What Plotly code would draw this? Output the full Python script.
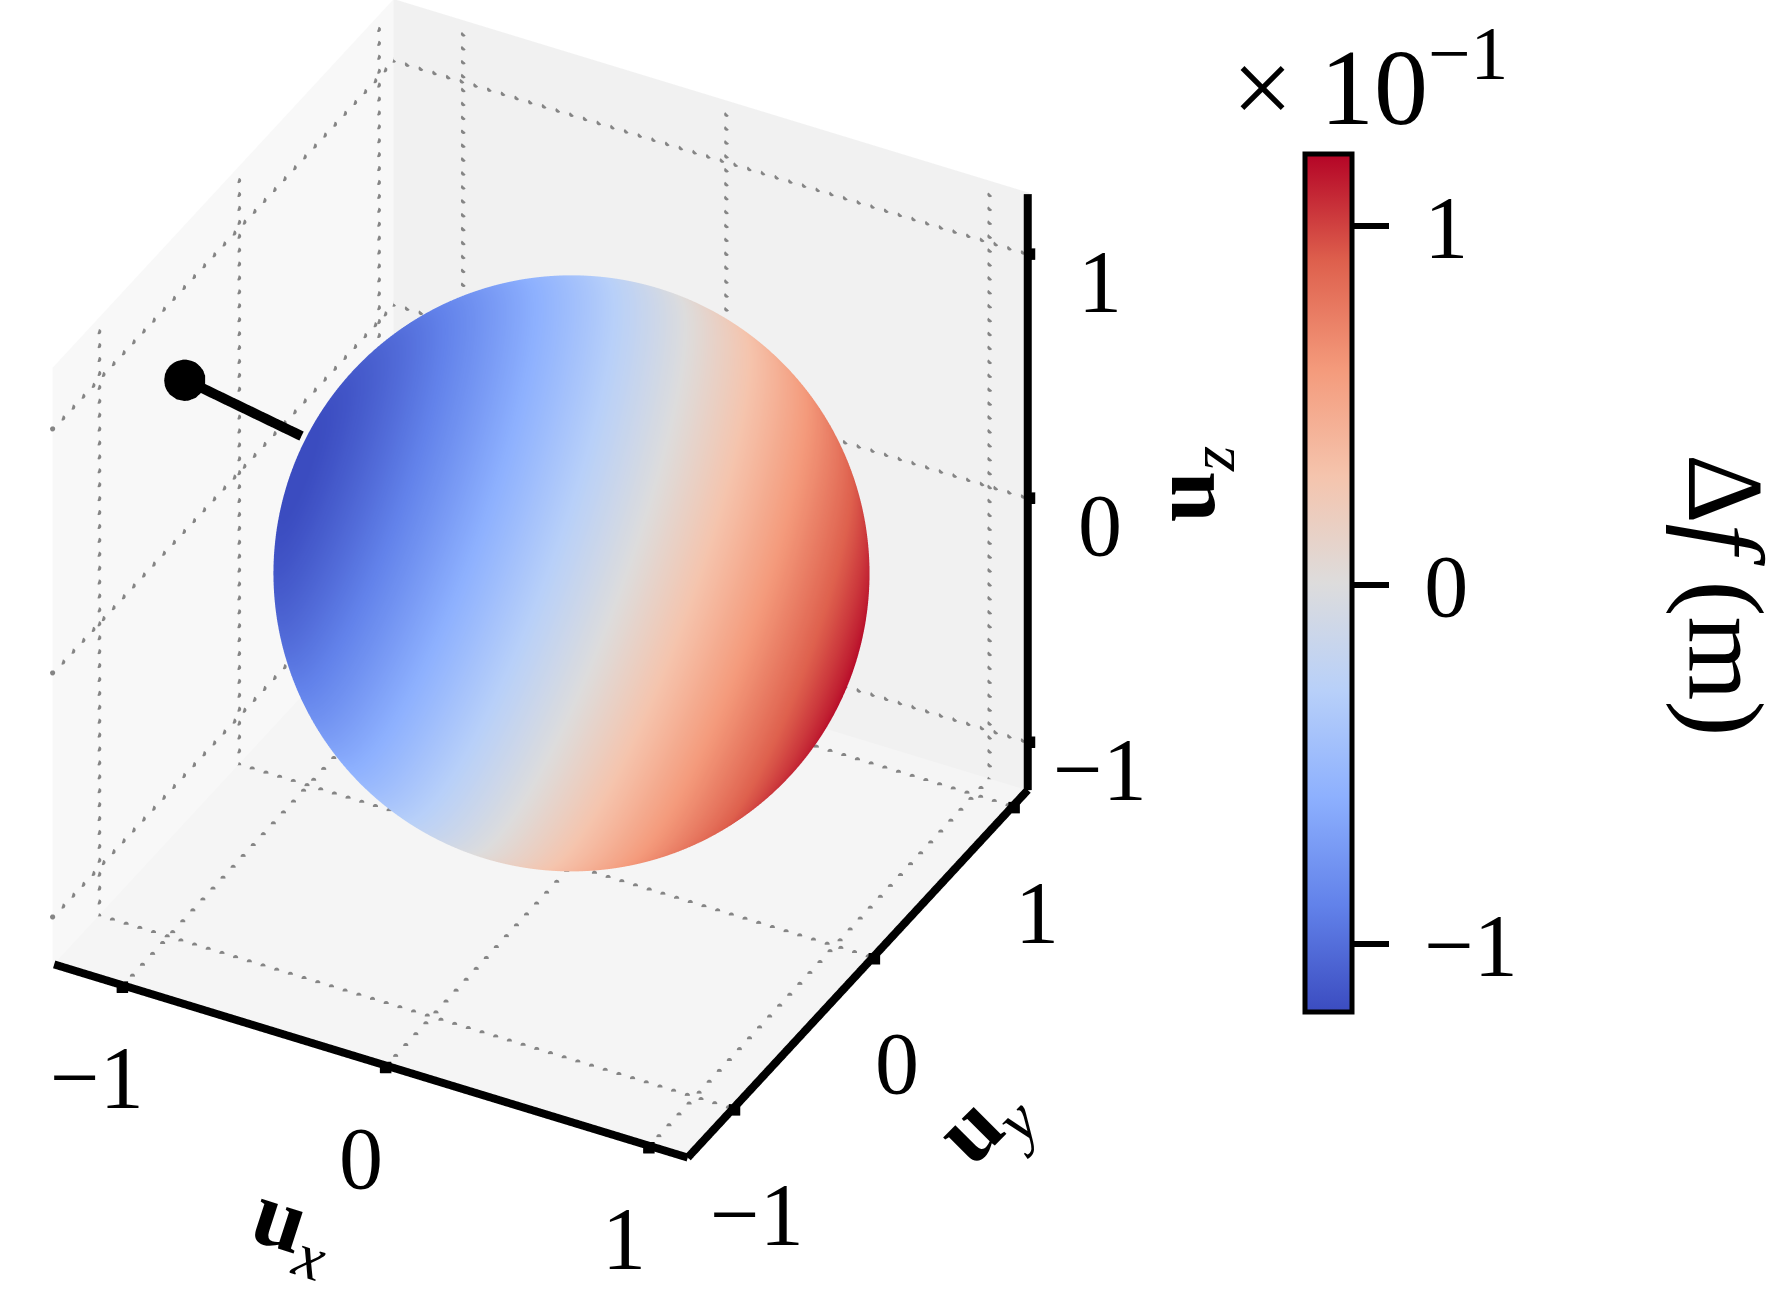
import numpy as np
import plotly.graph_objects as go

# ---- chart values ----
tick_values = [-1, 0, 1]
tick_labels = ["\u22121", "0", "1"]
x_range = [-1.265, 1.15]
y_range = [-1.33, 1.11]
z_range = [-1.20, 1.25]
colour_axis_n = [0.847, 0.386, -0.376]   # direction of the strongest positive value
colour_peak = 1.2                        # value at that direction (x 10^-1 m)
pointer_x = [-0.924, -1.108]
pointer_y = [-0.191, -0.683]
pointer_z = [0.377, 0.853]
colourbar_range = [-1.19, 1.20]
coolwarm = [
    [0.0, "#3b4cc0"], [0.125, "#6282ea"], [0.25, "#8db0fe"], [0.375, "#b8d0f9"],
    [0.5, "#dddcdc"], [0.625, "#f5c4ad"], [0.75, "#f49a7b"], [0.875, "#de604d"],
    [1.0, "#b40426"],
]

FONT = "Liberation Serif"
TICK_SIZE = 88
TITLE_SIZE = 92

# ---- unit sphere ----
theta, phi = np.meshgrid(np.linspace(0, np.pi, 181), np.linspace(0, 2 * np.pi, 361))
sx = np.sin(theta) * np.cos(phi)
sy = np.sin(theta) * np.sin(phi)
sz = np.cos(theta)
n = np.array(colour_axis_n) / np.linalg.norm(colour_axis_n)
colour = colour_peak * (n[0] * sx + n[1] * sy + n[2] * sz)

fig = go.Figure()
fig.add_trace(go.Surface(
    x=sx, y=sy, z=sz, surfacecolor=colour, colorscale=coolwarm,
    cmin=colourbar_range[0], cmax=colourbar_range[1],
    lighting=dict(ambient=1, diffuse=0, specular=0, roughness=1, fresnel=0),
    hoverinfo="skip",
    colorbar=dict(
        x=1305 / 1787, xanchor="left", xpad=0, y=0.5505, yanchor="middle", ypad=0,
        lenmode="pixels", len=858, thicknessmode="pixels", thickness=47,
        outlinewidth=5, outlinecolor="black",
        tickmode="array", tickvals=tick_values, ticktext=["\u2009" + t for t in tick_labels],
        ticks="outside", ticklen=35, tickwidth=6, tickcolor="black",
        tickfont=dict(family=FONT, size=TICK_SIZE, color="black"),
    ),
))

# ---- dotted grid on the three panes (dots, as the dash style renders too long) ----
gx, gy, gz = [], [], []
def dotted(fixed_axis_a, a, fixed_axis_b, b, free_axis, rng, step):
    ts = np.arange(rng[0], rng[1] + 1e-6, step)
    pts = {fixed_axis_a: np.full_like(ts, a), fixed_axis_b: np.full_like(ts, b), free_axis: ts}
    gx.extend(pts["x"]); gy.extend(pts["y"]); gz.extend(pts["z"])
DX, DY, DZ = 0.052, 0.072, 0.057
for t in tick_values:
    dotted("x", t, "z", z_range[0], "y", y_range, DY)          # floor
    dotted("y", t, "z", z_range[0], "x", x_range, DX)          # floor
    dotted("x", t, "y", y_range[1], "z", z_range, DZ)          # back wall
    dotted("z", t, "y", y_range[1], "x", x_range, DX)          # back wall
    dotted("y", t, "x", x_range[0], "z", z_range, DZ)          # left wall
    dotted("z", t, "x", x_range[0], "y", y_range, DY)          # left wall
fig.add_trace(go.Scatter3d(x=gx, y=gy, z=gz, mode="markers", hoverinfo="skip", showlegend=False,
                           marker=dict(color="#858585", size=3, line=dict(width=0))))

# ---- the three drawn axes with their ticks (a hair inside the clip box) ----
AX_W = 16
eps = 0.004
x0, x1 = x_range[0] + eps, x_range[1] - eps
y0, y1 = y_range[0] + eps, y_range[1] - eps
z0, z1 = z_range[0] + eps, z_range[1] - eps
for ax_x, ax_y, ax_z in [
    ([x0, x1], [y0, y0], [z0, z0]),
    ([x1, x1], [y0, y1], [z0, z0]),
    ([x1, x1], [y1, y1], [z0, z1]),
]:
    fig.add_trace(go.Scatter3d(x=ax_x, y=ax_y, z=ax_z, mode="lines", hoverinfo="skip", showlegend=False,
                               line=dict(color="black", width=AX_W)))
tk_x, tk_y, tk_z = [], [], []
for t in tick_values:
    tk_x += [t, x_range[1], x_range[1]]
    tk_y += [y_range[0], t, y_range[1]]
    tk_z += [z_range[0], z_range[0], t]
fig.add_trace(go.Scatter3d(x=tk_x, y=tk_y, z=tk_z, mode="markers", hoverinfo="skip", showlegend=False,
                           marker=dict(color="black", size=6, symbol="square", line=dict(width=0))))

# ---- pointer with ball ----
fig.add_trace(go.Scatter3d(x=pointer_x, y=pointer_y, z=pointer_z, mode="lines", hoverinfo="skip",
                           showlegend=False, line=dict(color="black", width=20)))
fig.add_trace(go.Scatter3d(x=pointer_x[1:], y=pointer_y[1:], z=pointer_z[1:], mode="markers",
                           hoverinfo="skip", showlegend=False,
                           marker=dict(color="black", size=24, line=dict(width=0))))

def axis(rng, bg):
    return dict(range=rng, autorange=False, showbackground=True, backgroundcolor=bg,
                showgrid=False, zeroline=False, showspikes=False, title=dict(text=""),
                showline=False, ticks="", showticklabels=False)

def note(x, y, z, text, dx, dy, size=TICK_SIZE, angle=0):
    return dict(x=x, y=y, z=z, text=text, showarrow=False, xshift=dx, yshift=dy,
                xanchor="center", yanchor="middle", textangle=angle,
                font=dict(family=FONT, size=size, color="black"))

anns = []
for t, lab in zip(tick_values, tick_labels):
    anns.append(note(t, y_range[0], z_range[0], lab, -25, -91))
    anns.append(note(x_range[1], t, z_range[0], lab, 23, -105))
    anns.append(note(x_range[1], y_range[1], t, lab, 71, -28))
anns.append(note(0, y_range[0], z_range[0], "<b>u</b><sub><i>x</i></sub>", -93, -160, TITLE_SIZE, 18))
anns.append(note(x_range[1], 0, z_range[0], "<b>u</b><sub><i>y</i></sub>", 109, -164, TITLE_SIZE, -45))
anns.append(note(x_range[1], y_range[1], 0, "<b>u</b><sub><i>z</i></sub>", 161, 14, TITLE_SIZE, -90))

k = 1.754
zoom = 1.149
view_dir = np.array([0.384, -0.723, 0.574])
centre = np.array([0.509, 0.2006, -0.0872])
eye = centre + k * view_dir
fig.update_layout(
    width=1787, height=1297, margin=dict(l=0, r=0, t=0, b=0),
    paper_bgcolor="white", showlegend=False,
    scene=dict(
        domain=dict(x=[0, 1], y=[0, 1]),
        aspectmode="manual",
        aspectratio=dict(x=zoom * np.ptp(x_range) / 2.5, y=zoom * np.ptp(y_range) / 2.5, z=zoom * np.ptp(z_range) / 2.5),
        xaxis=axis(x_range, "#f8f8f8"),
        yaxis=axis(y_range, "#f1f1f1"),
        zaxis=axis(z_range, "#f5f5f5"),
        camera=dict(projection=dict(type="orthographic"),
                    eye=dict(x=eye[0], y=eye[1], z=eye[2]),
                    center=dict(x=centre[0], y=centre[1], z=centre[2])),
        annotations=anns,
    ),
    annotations=[
        dict(xref="paper", yref="paper", x=1370 / 1787, y=1 - 80 / 1297, showarrow=False,
             xanchor="center", yanchor="middle",
             text="\u00d7 10<sup>\u22121</sup>", font=dict(family=FONT, size=108, color="black")),
        dict(xref="paper", yref="paper", x=1725 / 1787, y=1 - 595 / 1297, showarrow=False, textangle=90,
             xanchor="center", yanchor="middle",
             text="\u0394<i>f</i> (m)", font=dict(family=FONT, size=108, color="black")),
    ],
)
fig.write_html("out.html", config=dict(displayModeBar=False),
               post_script="document.body.style.margin='0';")
